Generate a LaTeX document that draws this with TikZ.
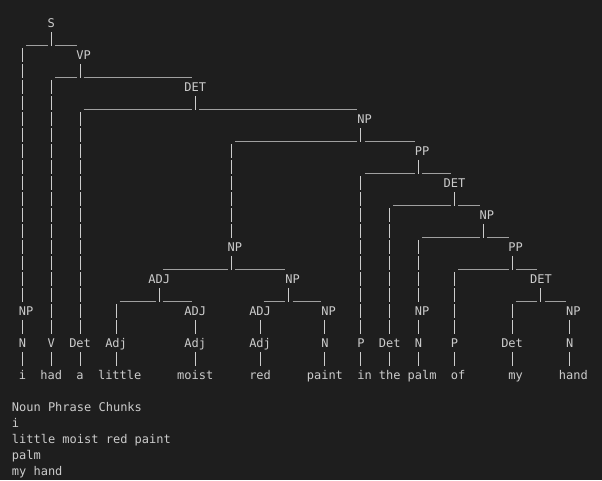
\documentclass[tikz,border=0pt]{standalone}
\usepackage{fontspec}
\newfontfamily\tmono{DejaVu Sans Mono}
\definecolor{termbg}{HTML}{1E1E1E}
\definecolor{termfg}{HTML}{CCCCCC}
\definecolor{termline}{HTML}{A0A0A0}

\tikzset{
  tag/.style={font={\tmono\fontsize{12pt}{16pt}\selectfont}, text=termfg,
    inner sep=0pt, text height=8.7pt, text depth=0pt},
  vbar/.style={draw=termfg, line width=1pt, dash pattern=on 14pt off 2pt},
  hbar/.style={draw=termline, line width=1pt},
}
% parent, leftmost child, rightmost child
\newcommand\fork[3]{%
  \path ([yshift=-22.5pt]#1.center) coordinate (u);
  \draw[vbar] ([yshift=-9pt]#1.center) -- ([yshift=-23pt]#1.center);
  \draw[hbar] ([xshift=3.6pt]#2 |- u) -- ([xshift=-3.6pt]u);
  \draw[hbar] ([xshift=3.6pt]u) -- ([xshift=-3.6pt]#3 |- u);
}
\newcommand\stem[2]{%
  \path ([yshift=-25pt]#1.center) coordinate (t);
  \draw[vbar] (#2 |- t) -- ([yshift=9pt]#2.center);
}
\newcommand\link[2]{\draw[vbar] ([yshift=-9pt]#1.center) -- ([yshift=9pt]#2.center);}

\begin{document}
\begin{tikzpicture}[x=7.2pt,y=-16pt]
\fill[termbg] (-2.125,-1.425) rectangle (81.486,28.575);

% phrase labels
\node[tag] (s) at (5,0) {S};
\node[tag] (vp) at (9,2) {\ VP};
\node[tag] (det1) at (25,4) {DET};
\node[tag] (np2) at (48,6) {\ NP};
\node[tag] (pp1) at (56,8) {\ PP};
\node[tag] (det2) at (61,10) {DET};
\node[tag] (np6) at (65,12) {\ NP};
\node[tag] (np3) at (30,14) {\ NP};
\node[tag] (pp2) at (69,14) {\ PP};
\node[tag] (adj1) at (20,16) {ADJ};
\node[tag] (np4) at (38,16) {\ NP};
\node[tag] (det3) at (73,16) {DET};
\node[tag] (np1) at (1,18) {\ NP};
\node[tag] (adj2) at (25,18) {ADJ};
\node[tag] (adj3) at (34,18) {ADJ};
\node[tag] (np5) at (43,18) {\ NP};
\node[tag] (np7) at (56,18) {\ NP};
\node[tag] (np8) at (77,18) {\ NP};

% word tags
\node[tag] (n1) at (1,20) {N};
\node[tag] (v) at (5,20) {V};
\node[tag] (dt1) at (9,20) {Det};
\node[tag] (aj1) at (14,20) {Adj};
\node[tag] (aj2) at (25,20) {Adj};
\node[tag] (aj3) at (34,20) {Adj};
\node[tag] (n2) at (43,20) {N};
\node[tag] (p1) at (48,20) {P};
\node[tag] (dt2) at (52,20) {Det};
\node[tag] (n3) at (56,20) {N};
\node[tag] (p2) at (61,20) {P};
\node[tag] (dt3) at (69,20) {Det};
\node[tag] (n4) at (77,20) {N};

% words
\node[tag] (w1) at (1,22) {i};
\node[tag] (w2) at (5,22) {had};
\node[tag] (w3) at (9,22) {a};
\node[tag] (w4) at (14,22) {\ little};
\node[tag] (w5) at (25,22) {moist};
\node[tag] (w6) at (34,22) {red};
\node[tag] (w7) at (43,22) {paint};
\node[tag] (w8) at (48,22) {\ in};
\node[tag] (w9) at (52,22) {the};
\node[tag] (w10) at (56,22) {\ palm};
\node[tag] (w11) at (61,22) {\ of};
\node[tag] (w12) at (69,22) {\ my};
\node[tag] (w13) at (77,22) {\ hand};

% branches
\fork{s}{np1}{vp} \stem{s}{np1}
\fork{vp}{v}{det1} \stem{vp}{v}
\fork{det1}{dt1}{np2} \stem{det1}{dt1}
\fork{np2}{np3}{pp1} \stem{np2}{np3}
\fork{pp1}{p1}{det2} \stem{pp1}{p1}
\fork{det2}{dt2}{np6} \stem{det2}{dt2}
\fork{np6}{np7}{pp2} \stem{np6}{np7}
\fork{pp2}{p2}{det3} \stem{pp2}{p2}
\fork{det3}{dt3}{np8} \stem{det3}{dt3}
\fork{np3}{adj1}{np4}
\fork{adj1}{aj1}{adj2} \stem{adj1}{aj1}
\fork{np4}{adj3}{np5}

\foreach \a/\b in {np1/n1, n1/w1, v/w2, dt1/w3, aj1/w4, adj2/aj2, aj2/w5,
  adj3/aj3, aj3/w6, np5/n2, n2/w7, p1/w8, dt2/w9, np7/n3, n3/w10,
  p2/w11, dt3/w12, np8/n4, n4/w13}
  \link{\a}{\b};

% chunk list
\node[tag, anchor=west] (head) at (-0.5,24) {Noun Phrase Chunks};
\node[tag, anchor=west] (c1) at (-0.5,25) {i};
\node[tag, anchor=west] (c2) at (-0.5,26) {little moist red paint};
\node[tag, anchor=west] (c3) at (-0.5,27) {palm};
\node[tag, anchor=west] (c4) at (-0.5,28) {my hand};
\end{tikzpicture}
\end{document}
